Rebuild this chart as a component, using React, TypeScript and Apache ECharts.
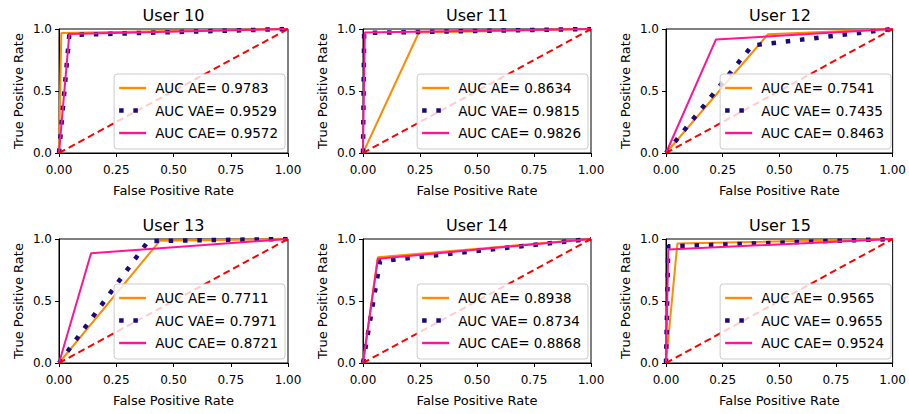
import React, { useEffect, useRef } from "react";
import * as echarts from "echarts";

const users = ["User 10", "User 11", "User 12", "User 13", "User 14", "User 15"];
const aucAE = [0.9783, 0.8634, 0.7541, 0.7711, 0.8938, 0.9565];
const aucVAE = [0.9529, 0.9815, 0.7435, 0.7971, 0.8734, 0.9655];
const aucCAE = [0.9572, 0.9826, 0.8463, 0.8721, 0.8868, 0.9524];

// ROC operating points (fpr, tpr) between (0,0) and (1,1)
const aeFpr = [0.01, 0.245, 0.45, 0.44, 0.065, 0.05];
const aeTpr = [0.967, 0.972, 0.958, 0.985, 0.853, 0.963];
const vaeFpr = [0.045, 0.005, 0.38, 0.39, 0.075, 0.01];
const vaeTpr = [0.952, 0.968, 0.867, 0.984, 0.822, 0.941];
const caeFpr = [0.045, 0.008, 0.22, 0.14, 0.065, 0.01];
const caeTpr = [0.96, 0.972, 0.915, 0.885, 0.84, 0.915];

const xTicks = [0, 0.25, 0.5, 0.75, 1];
const yTicks = [0, 0.5, 1];

const FONT = "DejaVu Sans";
const W = 909;
const H = 414;

const colLeft = [59, 363, 666];
const colWidth = [229, 228, 228];
const rowTop = [29, 239];
const plotH = 124;

const C_AE = "#ff8c00";
const C_VAE = "#1c0a7a";
const C_CAE = "#ff1493";

const ICON_SOLID = "path://M0,0h27v2.4h-27z";
const ICON_DOT = "path://M0,0h4.5v4.5h-4.5zM14.2,0h4.5v4.5h-4.5zM26.9,2.2h0.1v0.1h-0.1z";

export default function App() {
  const ref = useRef<HTMLDivElement>(null);
  useEffect(() => {
    if (!ref.current) return;
    const chart = echarts.init(ref.current, undefined, { renderer: "svg" });
    const grids: any[] = [];
    const xAxes: any[] = [];
    const yAxes: any[] = [];
    const series: any[] = [];
    const legends: any[] = [];
    const graphics: any[] = [];

    users.forEach((u, i) => {
      const r = Math.floor(i / 3);
      const c = i % 3;
      const left = colLeft[c];
      const top = rowTop[r];
      const w = colWidth[c];
      grids.push({
        left,
        top,
        width: w,
        height: plotH,
        show: true,
        borderColor: "#000",
        borderWidth: 1,
        backgroundColor: "#fff",
      });
      xAxes.push({
        type: "value",
        gridIndex: i,
        min: 0,
        max: 1,
        interval: 0.25,
        name: "False Positive Rate",
        nameLocation: "middle",
        nameGap: 31,
        nameTextStyle: { fontFamily: FONT, fontSize: 13, fontWeight: "normal", color: "#000" },
        axisLine: { show: true, onZero: false, lineStyle: { color: "#000", width: 1 } },
        axisTick: { show: true, inside: false, length: 4, lineStyle: { color: "#000" } },
        axisLabel: {
          margin: 11,
          fontFamily: FONT,
          fontSize: 12,
          color: "#000",
          formatter: (v: number) => (xTicks.includes(v) ? v.toFixed(2) : ""),
        },
        splitLine: { show: false },
      });
      yAxes.push({
        type: "value",
        gridIndex: i,
        min: 0,
        max: 1,
        interval: 0.5,
        name: "True Positive Rate",
        nameLocation: "middle",
        nameGap: 34,
        nameTextStyle: { fontFamily: FONT, fontSize: 13, fontWeight: "normal", color: "#000" },
        axisLine: { show: true, onZero: false, lineStyle: { color: "#000", width: 1 } },
        axisTick: { show: true, inside: false, length: 4, lineStyle: { color: "#000" } },
        axisLabel: {
          margin: 7,
          fontFamily: FONT,
          fontSize: 12,
          color: "#000",
          formatter: (v: number) => (yTicks.includes(v) ? v.toFixed(1) : ""),
        },
        splitLine: { show: false },
      });
      const nAE = "AUC AE= " + aucAE[i].toFixed(4);
      const nVAE = "AUC VAE= " + aucVAE[i].toFixed(4);
      const nCAE = "AUC CAE= " + aucCAE[i].toFixed(4);
      series.push({
        type: "line",
        name: nAE,
        xAxisIndex: i,
        yAxisIndex: i,
        symbol: "none",
        data: [[0, 0], [aeFpr[i], aeTpr[i]], [1, 1]],
        lineStyle: { color: C_AE, width: 2 },
        itemStyle: { color: C_AE },
        z: 2,
      });
      series.push({
        type: "line",
        name: nVAE,
        xAxisIndex: i,
        yAxisIndex: i,
        symbol: "none",
        data: [[0, 0], [vaeFpr[i], vaeTpr[i]], [1, 1]],
        lineStyle: { color: C_VAE, width: 4.5, type: [4.5, 9.8] },
        itemStyle: { color: C_VAE },
        z: 3,
      });
      series.push({
        type: "line",
        name: nCAE,
        xAxisIndex: i,
        yAxisIndex: i,
        symbol: "none",
        data: [[0, 0], [caeFpr[i], caeTpr[i]], [1, 1]],
        lineStyle: { color: C_CAE, width: 2 },
        itemStyle: { color: C_CAE },
        z: 4,
      });
      series.push({
        type: "line",
        name: "diag" + i,
        xAxisIndex: i,
        yAxisIndex: i,
        symbol: "none",
        data: [[0, 0], [1, 1]],
        lineStyle: { color: "#ff0000", width: 2, type: [7, 4] },
        z: 5,
      });
      legends.push({
        orient: "vertical",
        right: W - (left + w - 3),
        bottom: H - (top + plotH - 4),
        data: [
          { name: nAE, icon: ICON_SOLID },
          { name: nVAE, icon: ICON_DOT },
          { name: nCAE, icon: ICON_SOLID },
        ],
        itemWidth: 27,
        itemHeight: 14,
        itemGap: 8.5,
        padding: [7, 7, 9, 5],
        borderColor: "#cccccc",
        borderWidth: 1,
        borderRadius: 3,
        backgroundColor: "rgba(255,255,255,0.8)",
        selectedMode: false,
        itemStyle: { borderWidth: 0 },
        textStyle: { fontFamily: FONT, fontSize: 13.5, color: "#000", padding: [0, 0, 0, 4] },
        z: 10,
      });
      graphics.push({
        type: "text",
        x: left + w / 2,
        y: top - 14,
        style: {
          text: u,
          fill: "#000",
          fontFamily: FONT,
          fontSize: 16,
          align: "center",
          verticalAlign: "middle",
        },
      });
    });

    chart.setOption({
      animation: false,
      backgroundColor: "#fff",
      grid: grids,
      xAxis: xAxes,
      yAxis: yAxes,
      series,
      legend: legends,
      graphic: graphics,
    });
    return () => chart.dispose();
  }, []);
  return (
    <div
      ref={ref}
      style={{ position: "absolute", left: 0, top: 0, width: W, height: H }}
    />
  );
}
